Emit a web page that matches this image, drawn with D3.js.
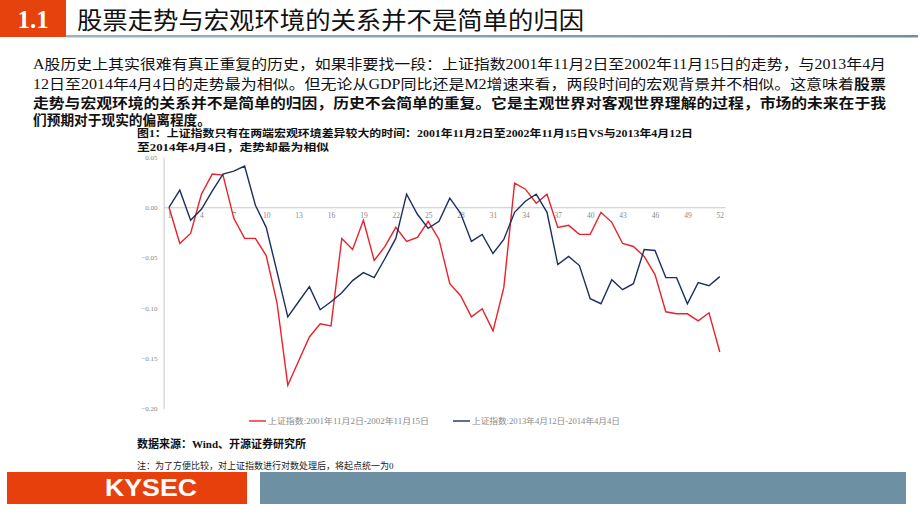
<!DOCTYPE html>
<html><head><meta charset="utf-8">
<script src="https://cdn.jsdelivr.net/npm/d3@7"></script>
<style>
html,body{margin:0;padding:0;background:#fff;}
svg{display:block;}
</style></head>
<body>
<svg id="c" width="920" height="518"></svg>
<script>
const categories = d3.range(1, 53);
const tickLabels = [1,4,7,10,13,16,19,22,25,28,31,34,37,40,43,46,49,52];
const yTicks = [0.05, 0.00, -0.05, -0.10, -0.15, -0.20];
const seriesNames = ["上证指数:2001年11月2日-2002年11月15日", "上证指数:2013年4月12日-2014年4月4日"];
const red2001 = [0,-0.036,-0.026,0.013,0.033,0.032,-0.011,-0.031,-0.031,-0.048,
  -0.095,-0.177,-0.153,-0.129,-0.116,-0.118,-0.031,-0.042,-0.013,-0.053,
  -0.039,-0.020,-0.034,-0.030,-0.014,-0.032,-0.076,-0.088,-0.109,-0.101,
  -0.123,-0.080,0.024,0.018,0.004,0.013,-0.020,-0.018,-0.027,-0.027,
  -0.005,-0.015,-0.036,-0.039,-0.049,-0.067,-0.104,-0.106,-0.106,-0.113,
  -0.105,-0.144];
const blue2013 = [0,0.017,-0.013,-0.002,0.016,0.033,0.036,0.041,0.002,-0.020,
  -0.064,-0.109,-0.094,-0.079,-0.102,-0.094,-0.085,-0.073,-0.065,-0.070,
  -0.051,-0.031,0.013,-0.007,-0.021,-0.014,0.009,-0.006,-0.034,-0.027,
  -0.046,-0.032,-0.005,0.006,0.013,-0.005,-0.057,-0.049,-0.058,-0.091,
  -0.096,-0.072,-0.082,-0.076,-0.042,-0.043,-0.070,-0.070,-0.096,-0.075,
  -0.078,-0.069];
const titleNum = "1.1";
const titleText = "股票走势与宏观环境的关系并不是简单的归因";
const figCaption1 = "图1：上证指数只有在两端宏观环境差异较大的时间：2001年11月2日至2002年11月15日VS与2013年4月12日";
const figCaption2 = "至2014年4月4日，走势却最为相似";
const sourceText = "数据来源：Wind、开源证券研究所";
const noteText = "注：为了方便比较，对上证指数进行对数处理后，将起点统一为0";

const svg = d3.select("#c");
const SERIF = "'Liberation Serif','Times New Roman','Noto Sans CJK SC',serif";
const CJK = "'Liberation Serif','Noto Sans CJK SC',sans-serif";

// header
svg.append("rect").attr("x",0).attr("y",0).attr("width",66).attr("height",37).attr("fill","#e5420e");
svg.append("text").attr("x",33).attr("y",28).attr("text-anchor","middle")
  .attr("font-family",SERIF).attr("font-weight","bold").attr("font-size",25).attr("fill","#fff").text(titleNum);
svg.append("text").attr("x",77).attr("y",29).attr("font-family","'Noto Sans CJK SC',sans-serif")
  .attr("font-size",23.5).attr("fill","#111").attr("textLength",507).attr("lengthAdjust","spacingAndGlyphs").text(titleText);
const grad = svg.append("defs").append("linearGradient").attr("id","hl");
grad.append("stop").attr("offset","0").attr("stop-color","#9fb3bf");
grad.append("stop").attr("offset","1").attr("stop-color","#6d8fa2");
svg.append("rect").attr("x",66).attr("y",35).attr("width",852).attr("height",2.5).attr("fill","url(#hl)");

// paragraph
const para = [
  {y:69, w:853, parts:[{t:"A股历史上其实很难有真正重复的历史，如果非要找一段：上证指数2001年11月2日至2002年11月15日的走势，与2013年4月",b:false}]},
  {y:89, w:853, parts:[{t:"12日至2014年4月4日的走势最为相似。但无论从GDP同比还是M2增速来看，两段时间的宏观背景并不相似。这意味着",b:false},{t:"股票",b:true}]},
  {y:108, w:853, parts:[{t:"走势与宏观环境的关系并不是简单的归因，历史不会简单的重复。它是主观世界对客观世界理解的过程，市场的未来在于我",b:true}]},
  {y:125, w:178, parts:[{t:"们预期对于现实的偏离程度。",b:true}]}
];
para.forEach(l=>{
  const t = svg.append("text").attr("x",33).attr("y",l.y).attr("font-family",CJK).attr("font-size",14)
    .attr("fill","#111").attr("textLength",l.w).attr("lengthAdjust","spacingAndGlyphs");
  l.parts.forEach(p=>t.append("tspan").attr("font-weight",p.b?"bold":"normal").text(p.t));
});

// caption
svg.append("text").attr("x",137).attr("y",137).attr("font-family",CJK).attr("font-weight","bold")
  .attr("font-size",10.5).attr("fill","#111").attr("textLength",556).attr("lengthAdjust","spacingAndGlyphs").text(figCaption1);
svg.append("text").attr("x",137).attr("y",150.5).attr("font-family",CJK).attr("font-weight","bold")
  .attr("font-size",10.5).attr("fill","#111").attr("textLength",192).attr("lengthAdjust","spacingAndGlyphs").text(figCaption2);

// chart
const x = d3.scalePoint().domain(categories).range([163.6, 725.2]).padding(0.5);
const y = d3.scaleLinear().domain([-0.20, 0.05]).range([408.3, 157]);

const yAxis = svg.append("g").attr("transform","translate(163.6,0)")
  .call(d3.axisLeft(y).tickValues(yTicks).tickFormat(d3.format(".2f")).tickSize(0).tickPadding(6));
yAxis.select(".domain").attr("stroke","#c8c8c8");
yAxis.selectAll("text").attr("font-family",SERIF).attr("font-size",7).attr("fill","#888");

const xAxis = svg.append("g").attr("transform",`translate(0,${y(0)})`)
  .call(d3.axisBottom(x).tickValues(tickLabels).tickSize(0).tickPadding(5));
xAxis.select(".domain").attr("stroke","#c8c8c8");
xAxis.selectAll("text").attr("font-family",SERIF).attr("font-size",7.5).attr("fill","#888");

const line = d3.line().x((d,i)=>x(categories[i])).y(d=>y(d));
svg.append("path").datum(red2001).attr("d",line).attr("fill","none").attr("stroke","#e8222a").attr("stroke-width",1.4);
svg.append("path").datum(blue2013).attr("d",line).attr("fill","none").attr("stroke","#1c2f62").attr("stroke-width",1.4);

// legend
const leg = [{x:249, w:161, c:"#e8222a", n:seriesNames[0]},{x:453, w:148, c:"#1c2f62", n:seriesNames[1]}];
leg.forEach(l=>{
  svg.append("line").attr("x1",l.x).attr("x2",l.x+17).attr("y1",421).attr("y2",421).attr("stroke",l.c).attr("stroke-width",1.4);
  svg.append("text").attr("x",l.x+19).attr("y",424).attr("font-family",CJK).attr("font-size",7.5).attr("fill","#888")
    .attr("textLength",l.w).attr("lengthAdjust","spacingAndGlyphs").text(l.n);
});

// source + note
svg.append("text").attr("x",137).attr("y",448).attr("font-family",CJK).attr("font-weight","bold")
  .attr("font-size",11).attr("fill","#111").text(sourceText);
svg.append("text").attr("x",137).attr("y",469).attr("font-family",CJK)
  .attr("font-size",9).attr("fill","#222").text(noteText);

// footer
svg.append("rect").attr("x",7).attr("y",472).attr("width",240).attr("height",32).attr("fill","#e8400c");
svg.append("text").attr("x",105).attr("y",496).attr("font-family","'Liberation Sans',Arial,sans-serif")
  .attr("font-weight","bold").attr("font-size",23).attr("fill","#fff")
  .attr("textLength",92).attr("lengthAdjust","spacingAndGlyphs").text("KYSEC");
svg.append("rect").attr("x",260).attr("y",472).attr("width",646).attr("height",32).attr("fill","#6e90a3");
</script>
</body></html>
